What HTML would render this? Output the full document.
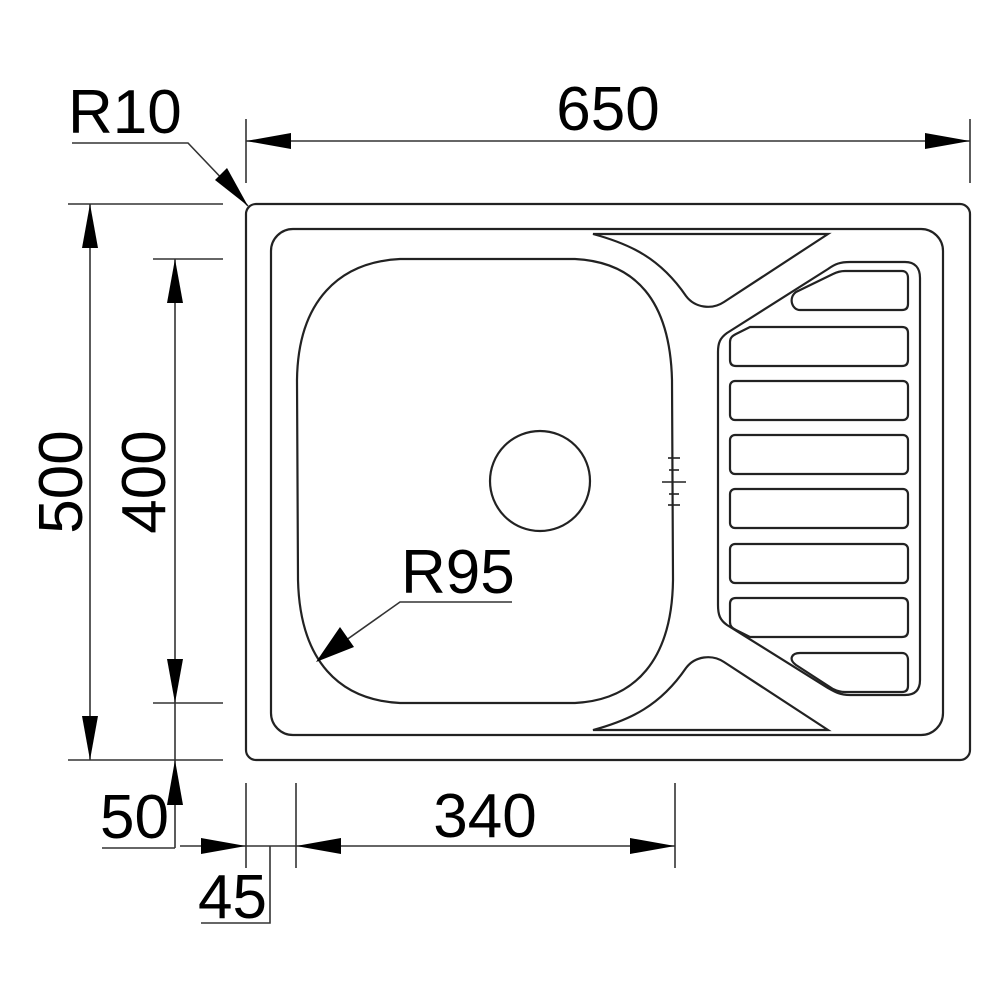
<!DOCTYPE html>
<html><head><meta charset="utf-8"><style>
html,body{margin:0;padding:0;background:#fff;}
svg{display:block;}
text{font-family:"Liberation Sans",Arial,sans-serif;fill:#000;}
</style></head><body>
<svg width="1000" height="1000" viewBox="0 0 1000 1000" xmlns="http://www.w3.org/2000/svg">
<g fill="none" stroke="#222" stroke-width="2.2">
  <!-- outer -->
  <rect x="246" y="204" width="724" height="556" rx="10"/>
  <!-- inner -->
  <rect x="271" y="229" width="672" height="506" rx="22"/>
  <!-- bowl -->
  <path d="M400,259 L575,259 C635,262 670,300 672,380 L673,580 C672,660 635,700 575,703 L400,703 C340,700 300,662 298,580 L297,380 C298,300 340,262 400,259 Z"/>
  <circle cx="540" cy="481" r="50"/>
  <!-- top triangle -->
  <path d="M593,234 L828,234 L724,302 C712,310 695,308 686,296 C660,258 630,244 593,234 Z"/>
  <path d="M593,730 L828,730 L724,662 C712,654 695,656 686,668 C660,706 630,720 593,730 Z"/>
  <!-- drainboard plate -->
  <path d="M727,333 L828,269 C835,264 840,262 850,262 L905,262 C915,262 920,268 920,278 L920,680 C920,690 915,695 905,695 L850,695 C840,695 835,692 828,688 L727,625 C720,620 718,615 718,605 L718,352 C718,343 720,338 727,333 Z"/>
  <!-- slots -->
  <path d="M796,292 L833,274 C837,272 840,271 845,271 L902,271 C906,271 908,274 908,278 L908,304 C908,308 906,310 902,310 L800,310 C792,310 788,298 796,292 Z"/>
  <path d="M736,334 L750,327 L902,327 C906,327 908,329 908,333 L908,360 C908,364 906,366 902,366 L736,366 C732,366 730,364 730,360 L730,342 C730,338 732,336 736,334 Z"/>
  <rect x="730" y="381" width="178" height="39" rx="5"/>
  <rect x="730" y="435" width="178" height="39" rx="5"/>
  <rect x="730" y="489" width="178" height="39" rx="5"/>
  <rect x="730" y="544" width="178" height="39" rx="5"/>
  <path d="M736,630 L750,637 L902,637 C906,637 908,635 908,631 L908,604 C908,600 906,598 902,598 L736,598 C732,598 730,600 730,604 L730,622 C730,626 732,628 736,630 Z"/>
  <path d="M796,665 L833,689 C837,691 840,692 845,692 L902,692 C906,692 908,690 908,686 L908,660 C908,656 906,653 902,653 L800,653 C792,653 788,659 796,665 Z"/>
</g>
<!-- tick marks -->
<g stroke="#222" stroke-width="1.6">
  <line x1="668" y1="458" x2="680" y2="458"/>
  <line x1="669" y1="470" x2="679" y2="470"/>
  <line x1="662" y1="482" x2="686" y2="482"/>
  <line x1="669" y1="494" x2="679" y2="494"/>
  <line x1="668" y1="505" x2="680" y2="505"/>
</g>
<!-- dimension lines -->
<g stroke="#333" stroke-width="1.6" fill="none">
  <!-- 650 -->
  <line x1="246" y1="141" x2="970" y2="141"/>
  <line x1="246" y1="119" x2="246" y2="183"/>
  <line x1="970" y1="119" x2="970" y2="183"/>
  <!-- R10 -->
  <polyline points="72,143 188,143 248,206"/>
  <!-- 500 -->
  <line x1="90" y1="204" x2="90" y2="760"/>
  <line x1="68" y1="204" x2="223" y2="204"/>
  <line x1="68" y1="760" x2="223" y2="760"/>
  <!-- 400 -->
  <line x1="175" y1="259" x2="175" y2="848"/>
  <line x1="153" y1="259" x2="223" y2="259"/>
  <line x1="153" y1="703" x2="223" y2="703"/>
  <!-- 50 -->
  <line x1="102" y1="848" x2="175" y2="848"/>
  <!-- 45 / 340 -->
  <line x1="180" y1="846" x2="675" y2="846"/>
  <line x1="246" y1="783" x2="246" y2="868"/>
  <line x1="296" y1="783" x2="296" y2="868"/>
  <line x1="675" y1="783" x2="675" y2="868"/>
  <polyline points="201,923 270,923 270,846"/>
  <!-- R95 -->
  <polyline points="512,602 400,602 318,660"/>
</g>
<!-- arrowheads -->
<g fill="#000">
  <polygon points="246,141 291,133 291,149"/>
  <polygon points="970,141 925,133 925,149"/>
  <polygon points="248,206 215,180 227,168"/>
  <polygon points="90,204 82,248 98,248"/>
  <polygon points="90,760 82,716 98,716"/>
  <polygon points="175,259 167,303 183,303"/>
  <polygon points="175,703 167,659 183,659"/>
  <polygon points="175,760 167,805 183,805"/>
  <polygon points="246,846 201,838 201,854"/>
  <polygon points="296,846 341,838 341,854"/>
  <polygon points="675,846 630,838 630,854"/>
  <polygon points="316,662 354,647 340,627"/>
</g>
<!-- labels -->
<g font-size="62">
  <text x="608" y="130" text-anchor="middle">650</text>
  <text x="68" y="133">R10</text>
  <text x="485" y="837" text-anchor="middle">340</text>
  <text x="401" y="593">R95</text>
  <text x="100" y="838">50</text>
  <text x="198" y="918">45</text>
  <text transform="translate(82,482) rotate(-90)" text-anchor="middle">500</text>
  <text transform="translate(165,482) rotate(-90)" text-anchor="middle">400</text>
</g>
</svg>
</body></html>
